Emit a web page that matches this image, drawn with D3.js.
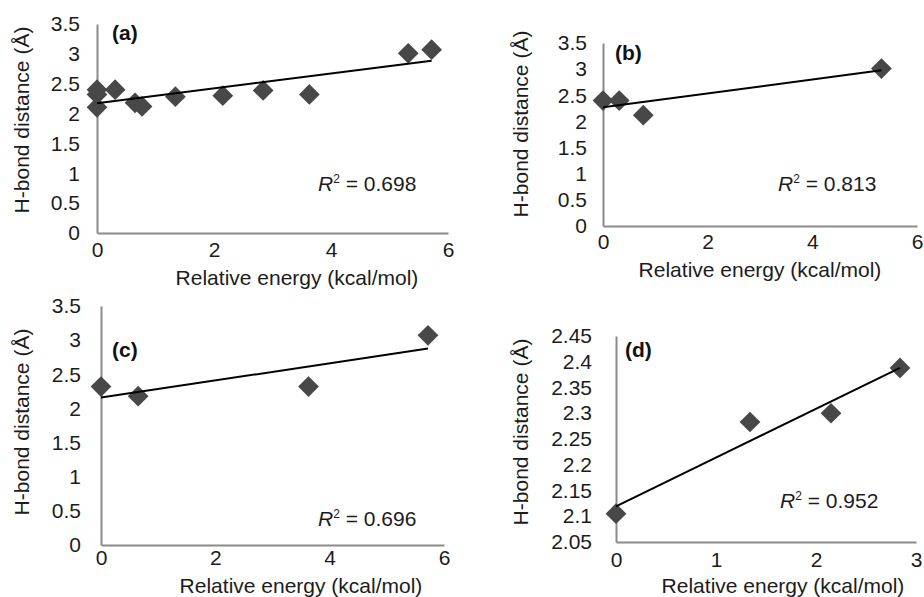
<!DOCTYPE html>
<html>
<head>
<meta charset="utf-8">
<script src="https://cdn.jsdelivr.net/npm/d3@7"></script>
<style>
  body { margin: 0; background: #fff; }
  svg { display: block; font-family: Arial, "Liberation Sans", sans-serif; }
</style>
</head>
<body>
<div id="chart"></div>
<script>
// data
const energyA = [0, 0, 0, 0.31, 0.65, 0.77, 1.34, 2.15, 2.84, 3.63, 5.32, 5.72];
const distA   = [2.40, 2.32, 2.105, 2.40, 2.18, 2.12, 2.283, 2.30, 2.388, 2.32, 3.01, 3.07];
const energyB = [0, 0.31, 0.77, 5.32];
const distB   = [2.40, 2.40, 2.12, 3.01];
const energyC = [0, 0.65, 3.63, 5.72];
const distC   = [2.32, 2.18, 2.32, 3.07];
const energyD = [0, 1.34, 2.15, 2.84];
const distD   = [2.105, 2.283, 2.30, 2.388];

const panelLabels = ["(a)", "(b)", "(c)", "(d)"];
const r2Labels = ["0.698", "0.813", "0.696", "0.952"];
const xTicks6 = [0, 2, 4, 6];
const xTicks3 = [0, 1, 2, 3];
const yTicks35 = [0, 0.5, 1, 1.5, 2, 2.5, 3, 3.5];
const yTicksD = [2.05, 2.1, 2.15, 2.2, 2.25, 2.3, 2.35, 2.4, 2.45];

const xTitle = "Relative energy (kcal/mol)";
const yTitle = "H-bond distance (Å)";

const width = 924, height = 597;
const fs = 21; // text size used throughout
const svg = d3.select("#chart").append("svg")
  .attr("width", width)
  .attr("height", height);

// layout of each panel (pixel boxes)
const panels = [
  { xs: energyA, ys: distA, xDom: [0, 6], yDom: [0, 3.5], xR: [97, 448], yR: [233, 24],
    xt: xTicks6, yt: yTicks35, yPad: 17, xPad: 9.5,
    tag: [112, 40], r2: [318, 190.5], xT: [297, 285], yT: [29, 120] },
  { xs: energyB, ys: distB, xDom: [0, 6], yDom: [0, 3.5], xR: [603, 917], yR: [226, 43],
    xt: xTicks6, yt: yTicks35, yPad: 16, xPad: 8.5,
    tag: [615, 60], r2: [778, 190.5], xT: [760, 277], yT: [528, 124] },
  { xs: energyC, ys: distC, xDom: [0, 6], yDom: [0, 3.5], xR: [101, 444], yR: [545, 306],
    xt: xTicks6, yt: yTicks35, yPad: 20, xPad: 5.5,
    tag: [112, 357], r2: [318, 525.5], xT: [301, 593], yT: [29, 422] },
  { xs: energyD, ys: distD, xDom: [0, 3], yDom: [2.05, 2.45], xR: [616, 916], yR: [542, 336],
    xt: xTicks3, yt: yTicksD, yPad: 24, xPad: 10.5,
    tag: [625, 357], r2: [780, 507.5], xT: [783, 593], yT: [528, 432] }
];

const fmt = d => String(+d.toFixed(2));
const diamond = d3.symbol().type(d3.symbolSquare).size(215);

panels.forEach((p, i) => {
  const x = d3.scaleLinear().domain(p.xDom).range(p.xR);
  const y = d3.scaleLinear().domain(p.yDom).range(p.yR);
  const g = svg.append("g");

  const xAxis = g.append("g")
    .attr("transform", `translate(0,${p.yR[0]})`)
    .call(d3.axisBottom(x).tickValues(p.xt).tickFormat(fmt).tickSize(0).tickPadding(p.xPad));
  const yAxis = g.append("g")
    .attr("transform", `translate(${p.xR[0]},0)`)
    .call(d3.axisLeft(y).tickValues(p.yt).tickFormat(fmt).tickSize(0).tickPadding(p.yPad));

  [xAxis, yAxis].forEach(ax => {
    ax.select(".domain").attr("stroke", "#8a8a8a").attr("stroke-width", 2);
    ax.selectAll("text").attr("font-size", fs).attr("fill", "#1c1c1c");
  });

  // least squares trendline, drawn across the data range
  const pts = p.xs.map((v, k) => [v, p.ys[k]]);
  const mx = d3.mean(p.xs), my = d3.mean(p.ys);
  const sxy = d3.sum(pts, d => (d[0] - mx) * (d[1] - my));
  const sxx = d3.sum(pts, d => (d[0] - mx) ** 2);
  const slope = sxy / sxx, icpt = my - slope * mx;
  const [lo, hi] = d3.extent(p.xs);

  g.selectAll("path.pt")
    .data(pts)
    .join("path")
    .attr("class", "pt")
    .attr("d", diamond)
    .attr("fill", "#484848")
    .attr("transform", d => `translate(${x(d[0])},${y(d[1])}) rotate(45)`);

  g.append("line")
    .attr("x1", x(lo)).attr("y1", y(icpt + slope * lo))
    .attr("x2", x(hi)).attr("y2", y(icpt + slope * hi))
    .attr("stroke", "#000")
    .attr("stroke-width", 2);

  g.append("text")
    .attr("x", p.tag[0]).attr("y", p.tag[1])
    .attr("font-size", fs).attr("font-weight", "bold").attr("fill", "#111")
    .text(panelLabels[i]);

  const r2 = g.append("text")
    .attr("x", p.r2[0]).attr("y", p.r2[1])
    .attr("font-size", fs).attr("fill", "#1c1c1c");
  r2.append("tspan").attr("font-style", "italic").text("R");
  r2.append("tspan").attr("font-size", 12).attr("dy", -8).text("2");
  r2.append("tspan").attr("dy", 8).text(" = " + r2Labels[i]);

  g.append("text")
    .attr("x", p.xT[0]).attr("y", p.xT[1])
    .attr("text-anchor", "middle")
    .attr("font-size", fs).attr("fill", "#1c1c1c")
    .text(xTitle);

  g.append("text")
    .attr("transform", `translate(${p.yT[0]},${p.yT[1]}) rotate(-90)`)
    .attr("text-anchor", "middle")
    .attr("font-size", fs).attr("fill", "#1c1c1c")
    .text(yTitle);
});
</script>
</body>
</html>
